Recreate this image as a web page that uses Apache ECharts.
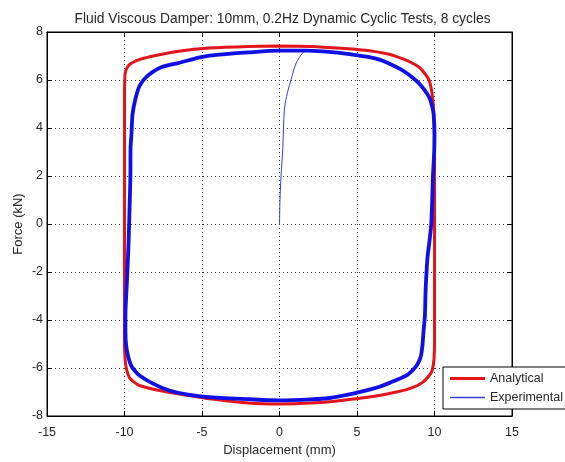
<!DOCTYPE html>
<html>
<head>
<meta charset="utf-8">
<script src="https://cdn.jsdelivr.net/npm/echarts@6/dist/echarts.min.js"></script>
<style>html,body{margin:0;padding:0;background:#fff;}#c{width:565px;height:462px;}</style>
</head>
<body>
<div id="c"></div>
<script>
const titleText = 'Fluid Viscous Damper: 10mm, 0.2Hz Dynamic Cyclic Tests, 8 cycles';
const xName = 'Displacement (mm)';
const yName = 'Force (kN)';
const seriesNames = ['Analytical', 'Experimental'];

// Analytical loop (displacement mm, force kN)
const analyticalX = [0, 2, 4, 5.8, 7, 7.74, 8.4, 9.03, 9.4, 9.68, 9.87, 9.96, 10, 10, 10, 10, 9.97, 9.9, 9.79, 9.23, 8.39, 7.1, 5.8, 4, 2, 0, -2, -4.52, -5.81, -7.74, -9.03, -9.4, -9.68, -9.85, -9.95, -10, -10, -10, -10, -10, -9.98, -9.95, -9.68, -9.0, -7.74, -6.5, -4.52, -2, 0];
const analyticalY = [7.42, 7.4, 7.32, 7.22, 7.08, 6.93, 6.76, 6.52, 6.25, 5.94, 5.3, 4.5, 3, 0, -3, -5.0, -5.6, -5.95, -6.19, -6.6, -6.86, -7.06, -7.21, -7.35, -7.46, -7.5, -7.46, -7.28, -7.15, -6.94, -6.73, -6.58, -6.4, -6.1, -5.7, -5.0, -3, 0, 3, 5.5, 6.02, 6.31, 6.64, 6.86, 7.05, 7.2, 7.33, 7.4, 7.42];

// Experimental: initial loading branch
const expStartX = [0, 0.03, 0.1, 0.21, 0.32, 0.52, 0.75, 1.08, 1.48, 1.72];
const expStartY = [0, 1, 2, 3.14, 4.79, 5.49, 6.03, 6.71, 7.12, 7.22];

// Experimental: steady cyclic loop
const expLoopX = [1.72, 3, 4.5, 5.8, 6.45, 7.1, 7.8, 8.39, 8.85, 9.23, 9.5, 9.68, 9.85, 9.94, 10, 9.98, 9.9, 9.87, 9.79, 9.66, 9.55, 9.46, 9.42, 9.38, 9.3, 9.23, 9.14, 9.0, 8.82, 8.5, 8.17, 7.1, 6.45, 5.8, 4.5, 3.23, 2, 0, -2, -4.52, -5.81, -7.1, -8.19, -9.03, -9.35, -9.57, -9.75, -9.89, -9.94, -9.94, -9.85, -9.75, -9.68, -9.62, -9.61, -9.55, -9.48, -9.3, -9.03, -8.6, -7.74, -6.45, -5.16, -4.52, -2, 0, 1.72];
const expLoopY = [7.22, 7.18, 7.08, 6.95, 6.85, 6.68, 6.45, 6.2, 5.95, 5.69, 5.45, 5.25, 4.9, 4.6, 3.76, 3.0, 2.0, 1.37, 0, -0.8, -1.38, -2.3, -2.9, -3.83, -4.4, -5.0, -5.45, -5.72, -5.92, -6.15, -6.32, -6.62, -6.78, -6.9, -7.1, -7.25, -7.31, -7.35, -7.3, -7.21, -7.12, -6.94, -6.64, -6.31, -6.1, -5.9, -5.55, -5.08, -4.5, -3.84, -2.5, -1, 0.5, 2, 3.14, 3.76, 4.58, 5.2, 5.75, 6.12, 6.5, 6.72, 6.94, 7.02, 7.15, 7.22, 7.22];

const xMin = -15, xMax = 15, xStep = 5;
const yMin = -8, yMax = 8, yStep = 2;

function pairs(xs, ys) { return xs.map((x, i) => [x, ys[i]]); }

const FONT = '"Liberation Sans", Arial, sans-serif';
const TXT = '#262626';
const RED = '#e3141a';
const BLUE = '#1010e6';
const BLUE_THIN = '#3c3cdc';

const chart = echarts.init(document.getElementById('c'), null, {renderer: 'canvas'});
const splitStyle = {show: true, lineStyle: {color: '#333', type: [1, 3], width: 1}};
chart.setOption({
  animation: false,
  backgroundColor: '#fff',
  title: {
    text: titleText, left: 'center', top: 7,
    textStyle: {fontFamily: FONT, fontSize: 13.8, fontWeight: 'normal', color: TXT}
  },
  grid: {left: 47, right: 53, top: 32, bottom: 41, show: true, borderColor: '#000', borderWidth: 1, backgroundColor: '#fff'},
  legend: {
    orient: 'vertical', left: 443, top: 367,
    data: [
      {name: seriesNames[0], icon: 'path://M0,0H35V3H0Z', itemStyle: {color: RED}},
      {name: seriesNames[1], icon: 'path://M0,0H35V1.4H0Z', itemStyle: {color: BLUE_THIN}}
    ],
    symbolKeepAspect: true,
    itemWidth: 35, itemHeight: 14, itemGap: 6,
    padding: [5, 8, 5, 7],
    backgroundColor: '#fff', borderColor: '#000', borderWidth: 1, borderRadius: 0,
    textStyle: {fontFamily: FONT, fontSize: 12.5, color: TXT}
  },
  xAxis: [{
    type: 'value', min: xMin, max: xMax, interval: xStep, position: 'bottom',
    name: xName, nameLocation: 'middle', nameGap: 28, nameMoveOverlap: false,
    nameTextStyle: {fontFamily: FONT, fontSize: 13, color: TXT},
    axisLine: {show: true, onZero: false, lineStyle: {color: '#000'}},
    axisTick: {show: true, inside: true, length: 5, lineStyle: {color: '#000'}},
    axisLabel: {fontFamily: FONT, fontSize: 12.5, color: TXT, margin: 10},
    splitLine: splitStyle
  }, {
    type: 'value', min: xMin, max: xMax, interval: xStep, position: 'top',
    axisLine: {show: true, onZero: false, lineStyle: {color: '#000'}},
    axisTick: {show: true, inside: true, length: 5, lineStyle: {color: '#000'}},
    axisLabel: {show: false}, splitLine: {show: false}
  }],
  yAxis: [{
    type: 'value', min: yMin, max: yMax, interval: yStep, position: 'left',
    name: yName, nameLocation: 'middle', nameGap: 22, nameMoveOverlap: false,
    nameTextStyle: {fontFamily: FONT, fontSize: 13, color: TXT},
    axisLine: {show: true, onZero: false, lineStyle: {color: '#000'}},
    axisTick: {show: true, inside: true, length: 5, lineStyle: {color: '#000'}},
    axisLabel: {fontFamily: FONT, fontSize: 12.5, color: TXT, margin: 4},
    splitLine: splitStyle
  }, {
    type: 'value', min: yMin, max: yMax, interval: yStep, position: 'right',
    axisLine: {show: true, onZero: false, lineStyle: {color: '#000'}},
    axisTick: {show: true, inside: true, length: 5, lineStyle: {color: '#000'}},
    axisLabel: {show: false}, splitLine: {show: false}
  }],
  series: [{
    name: seriesNames[0], type: 'line', xAxisIndex: 0, yAxisIndex: 0,
    data: pairs(analyticalX, analyticalY), symbol: 'none', smooth: 0.3,
    lineStyle: {color: RED, width: 3}, itemStyle: {color: RED}
  }, {
    name: seriesNames[1], type: 'line', xAxisIndex: 0, yAxisIndex: 0,
    data: pairs(expStartX, expStartY), symbol: 'none', smooth: 0.3,
    lineStyle: {color: BLUE_THIN, width: 1}, itemStyle: {color: BLUE_THIN}
  }, {
    name: seriesNames[1], type: 'line', xAxisIndex: 0, yAxisIndex: 0,
    data: pairs(expLoopX, expLoopY), symbol: 'none', smooth: 0.3,
    lineStyle: {color: BLUE, width: 3.8}, itemStyle: {color: BLUE}
  }]
});
</script>
</body>
</html>
